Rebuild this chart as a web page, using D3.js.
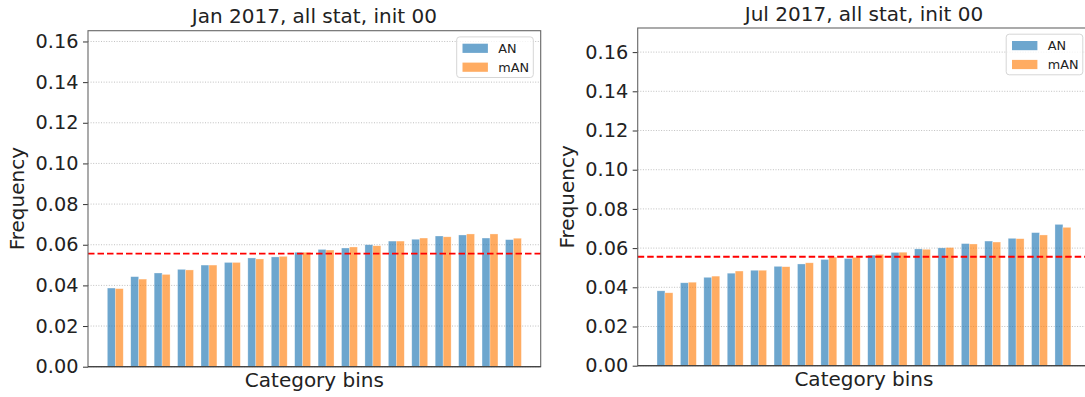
<!DOCTYPE html>
<html>
<head>
<meta charset="utf-8">
<script src="https://cdn.jsdelivr.net/npm/d3@7"></script>
<style>
  html, body { margin: 0; padding: 0; background: #fff; }
  svg { display: block; font-family: "DejaVu Sans", sans-serif; }
</style>
</head>
<body>
<svg id="chart" width="1085" height="397"></svg>
<script>
// Category bins (18 ranked bins)
const bins = [1, 2, 3, 4, 5, 6, 7, 8, 9, 10, 11, 12, 13, 14, 15, 16, 17, 18];

// Relative frequencies per bin, January 2017
const janAN  = [0.0387, 0.0443, 0.0461, 0.0479, 0.0500, 0.0513, 0.0535, 0.0540, 0.0563,
                0.0577, 0.0584, 0.0600, 0.0618, 0.0627, 0.0643, 0.0648, 0.0633, 0.0625];
const janMAN = [0.0384, 0.0431, 0.0454, 0.0476, 0.0500, 0.0513, 0.0530, 0.0543, 0.0563,
                0.0574, 0.0589, 0.0595, 0.0618, 0.0633, 0.0639, 0.0653, 0.0653, 0.0632];

// Relative frequencies per bin, July 2017
const julAN  = [0.0382, 0.0423, 0.0451, 0.0472, 0.0487, 0.0507, 0.0519, 0.0542, 0.0547,
                0.0564, 0.0578, 0.0596, 0.0601, 0.0623, 0.0636, 0.0650, 0.0679, 0.0721];
const julMAN = [0.0372, 0.0426, 0.0457, 0.0483, 0.0487, 0.0505, 0.0525, 0.0554, 0.0553,
                0.0568, 0.0579, 0.0594, 0.0603, 0.0621, 0.0631, 0.0648, 0.0667, 0.0706];

const yTicks = [0.00, 0.02, 0.04, 0.06, 0.08, 0.10, 0.12, 0.14, 0.16];
const seriesNames = ["AN", "mAN"];
const uniformFreq = 0.0556;   // expected frequency of a flat histogram (1/18)

const panels = [
  { title: "Jan 2017, all stat, init 00", an: janAN, man: janMAN,
    left: 88, right: 540.7, top: 30.7, bottom: 366.7, yMax: 0.1653 },
  { title: "Jul 2017, all stat, init 00", an: julAN, man: julMAN,
    left: 637.7, right: 1090.2, top: 28, bottom: 365.7, yMax: 0.1723 }
];

const colors = { AN: "#1f77b4", mAN: "#ff7f0e" };
const barOpacity = 0.65;
const barWidth = 0.34;
const svg = d3.select("#chart");

panels.forEach(p => {
  const g = svg.append("g");
  const x = d3.scaleLinear().domain([-1.165, bins.length - 1 + 1.165]).range([p.left, p.right]);
  const y = d3.scaleLinear().domain([0, p.yMax]).range([p.bottom, p.top]);

  // dotted horizontal grid
  g.append("g").selectAll("line").data(yTicks).join("line")
    .attr("x1", p.left).attr("x2", p.right)
    .attr("y1", d => y(d)).attr("y2", d => y(d))
    .attr("stroke", "#b0b0b0").attr("stroke-width", 0.8)
    .attr("stroke-dasharray", "1,1.6");

  // bars
  const rows = bins.map((b, i) => ({ i, an: p.an[i], man: p.man[i] }));
  g.append("g").selectAll("rect").data(rows).join("rect")
    .attr("x", d => x(d.i - barWidth)).attr("width", d => x(barWidth) - x(0))
    .attr("y", d => y(d.an)).attr("height", d => y(0) - y(d.an))
    .attr("fill", colors.AN).attr("fill-opacity", barOpacity)
    .attr("stroke", "#ffffff").attr("stroke-opacity", 0.5).attr("stroke-width", 0.6);
  g.append("g").selectAll("rect").data(rows).join("rect")
    .attr("x", d => x(d.i)).attr("width", d => x(barWidth) - x(0))
    .attr("y", d => y(d.man)).attr("height", d => y(0) - y(d.man))
    .attr("fill", colors.mAN).attr("fill-opacity", barOpacity)
    .attr("stroke", "#ffffff").attr("stroke-opacity", 0.5).attr("stroke-width", 0.6);

  // reference line for a uniform distribution
  g.append("line")
    .attr("x1", p.left).attr("x2", p.right)
    .attr("y1", y(uniformFreq)).attr("y2", y(uniformFreq))
    .attr("stroke", "#ff0000").attr("stroke-width", 1.8)
    .attr("stroke-dasharray", "6.5,3");

  // y axis
  const yAxis = d3.axisLeft(y).tickValues(yTicks).tickFormat(d3.format(".2f"))
    .tickSize(5).tickPadding(4.5);
  const ya = g.append("g").attr("transform", `translate(${p.left},0)`).call(yAxis);
  ya.select(".domain").remove();
  ya.selectAll(".tick line").attr("stroke", "#333").attr("stroke-width", 1);
  ya.selectAll(".tick text").attr("fill", "#222").style("font-size", "19.3px")
    .style("font-family", "DejaVu Sans");

  // frame
  g.append("rect")
    .attr("x", p.left).attr("y", p.top)
    .attr("width", p.right - p.left).attr("height", p.bottom - p.top)
    .attr("fill", "none").attr("stroke", "#666").attr("stroke-width", 1.1);
  g.append("line")
    .attr("x1", p.left).attr("x2", p.right).attr("y1", p.bottom).attr("y2", p.bottom)
    .attr("stroke", "#333").attr("stroke-width", 1.1);

  // title and axis labels
  const cx = (p.left + p.right) / 2;
  g.append("text").attr("x", cx).attr("y", p.top - 7.3)
    .attr("text-anchor", "middle").attr("fill", "#222")
    .style("font-size", "20px").text(p.title);
  g.append("text").attr("x", cx).attr("y", p.bottom + 20)
    .attr("text-anchor", "middle").attr("fill", "#222")
    .style("font-size", "20px").text("Category bins");
  g.append("text")
    .attr("transform", `translate(${p.left - 64},${(p.top + p.bottom) / 2}) rotate(-90)`)
    .attr("text-anchor", "middle").attr("fill", "#222")
    .style("font-size", "20px").text("Frequency");

  // legend
  const lw = 76.6, lh = 40.6;
  const lx = p.right - 7.4 - lw, ly = p.top + 6.2;
  const leg = g.append("g").attr("transform", `translate(${lx},${ly})`);
  leg.append("rect").attr("width", lw).attr("height", lh).attr("rx", 3)
    .attr("fill", "#fff").attr("fill-opacity", 0.8)
    .attr("stroke", "#d6d6d6").attr("stroke-width", 1);
  seriesNames.forEach((name, k) => {
    const yy = 6.8 + k * 18.9;
    leg.append("rect").attr("x", 5.8).attr("y", yy).attr("width", 25.4).attr("height", 9.2)
      .attr("fill", colors[name]).attr("fill-opacity", barOpacity);
    leg.append("text").attr("x", 41.5).attr("y", yy + 4.6).attr("dy", "0.36em")
      .attr("fill", "#222").style("font-size", "12.8px").text(name);
  });
});
</script>
</body>
</html>
